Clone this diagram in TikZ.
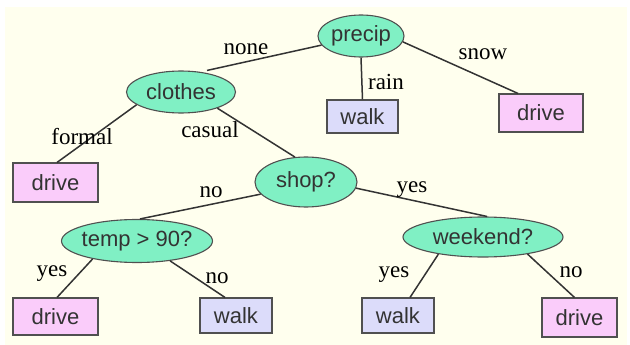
\documentclass[tikz,border=0pt]{standalone}
\usepackage{fontspec}
\setmainfont{Liberation Serif}
\newfontfamily\nodefont{Liberation Sans}
\usetikzlibrary{shapes.geometric}

\definecolor{bgcream}{HTML}{FFFFEE}
\definecolor{testfill}{HTML}{80F0C4}
\definecolor{drivefill}{HTML}{FACCFA}
\definecolor{walkfill}{HTML}{DCDCFA}
\definecolor{rimgray}{HTML}{505050}
\definecolor{inkgray}{HTML}{333333}

% zero-width box so ellipse size comes only from its minimum dimensions
\newcommand\inell[1]{\makebox[0pt]{#1}}

\tikzset{
  test/.style={ellipse, draw=rimgray, fill=testfill, line width=1.1pt,
    inner sep=0pt, text=inkgray,
    font=\nodefont\fontsize{22}{22}\selectfont},
  leaf/.style={rectangle, draw=rimgray, line width=1.1pt, inner sep=0pt,
    text=inkgray, font=\nodefont\fontsize{22}{22}\selectfont},
  drivebox/.style={leaf, fill=drivefill},
  walkbox/.style={leaf, fill=walkfill},
  branch/.style={draw=inkgray, line width=1.5pt},
  tag/.style={anchor=base, text=black, font=\fontsize{23}{23}\selectfont, inner sep=0pt}
}

\begin{document}
\begin{tikzpicture}[x=1pt, y=-1pt]
  \useasboundingbox (0,0) rectangle (630,345);
  \fill[bgcream] (5,7) rectangle (627,345);

  % decision nodes
  \node[test, minimum width=86pt,  minimum height=42pt] (precip)  at (361,36)  {\inell{precip}};
  \node[test, minimum width=109pt, minimum height=42pt] (clothes) at (181,92)  {\inell{clothes}};
  \node[test, minimum width=102pt, minimum height=50pt] (shop)    at (306,182) {\inell{shop?}};
  \node[test, minimum width=151pt, minimum height=43pt] (temp)    at (137,241) {\inell{temp > 90?}};
  \node[test, minimum width=160pt, minimum height=40pt] (weekend) at (483,237) {\inell{weekend?}};

  % outcomes
  \node[walkbox,  minimum width=71pt, minimum height=33pt] (walkA)  at (362.5,116.5) {walk};
  \node[drivebox, minimum width=84pt, minimum height=38pt] (driveA) at (541,113)     {drive};
  \node[drivebox, minimum width=85pt, minimum height=39pt] (driveB) at (55.5,182.5)  {drive};
  \node[drivebox, minimum width=85pt, minimum height=37pt] (driveC) at (55.5,316.5)  {drive};
  \node[walkbox,  minimum width=72pt, minimum height=35pt] (walkB)  at (236,315.5)   {walk};
  \node[walkbox,  minimum width=72pt, minimum height=35pt] (walkC)  at (398,315.5)   {walk};
  \node[drivebox, minimum width=75pt, minimum height=39pt] (driveD) at (579.5,317.5) {drive};

  % branches
  \draw[branch] (precip.193) -- ([xshift=26pt]clothes.north);
  \draw[branch] (precip.south) -- (walkA.north);
  \draw[branch] (precip.352) -- ([xshift=-23pt]driveA.north);
  \draw[branch] (clothes.196.5) -- ([xshift=1.5pt]driveB.north);
  \draw[branch] (clothes.336.6) -- (shop.114);
  \draw[branch] (shop.195) -- ([xshift=3pt]temp.north);
  \draw[branch] (shop.353.3) -- ([xshift=4pt]weekend.north);
  \draw[branch] (temp.202) -- ([xshift=1.5pt]driveC.north);
  \draw[branch] (temp.329.7) -- ([xshift=-11pt]walkB.north);
  \draw[branch] (weekend.201.4) -- ([xshift=12pt]walkC.north);
  \draw[branch] (weekend.339.6) -- ([xshift=-5pt]driveD.north);

  % branch labels
  \node[tag] (lnone)   at (246,54.5) {none};
  \node[tag] (lrain)   at (386,90)   {rain};
  \node[tag] (lsnow)   at (483,60)   {snow};
  \node[tag] (lformal) at (82,144)   {formal};
  \node[tag] (lcasual) at (210,138)  {casual};
  \node[tag] (lno1)    at (211,197)  {no};
  \node[tag] (lyes1)   at (412,192)  {yes};
  \node[tag] (lyes2)   at (52,276)   {yes};
  \node[tag] (lno2)    at (217,283)  {no};
  \node[tag] (lyes3)   at (394,277)  {yes};
  \node[tag] (lno3)    at (571,277)  {no};
\end{tikzpicture}
\end{document}
